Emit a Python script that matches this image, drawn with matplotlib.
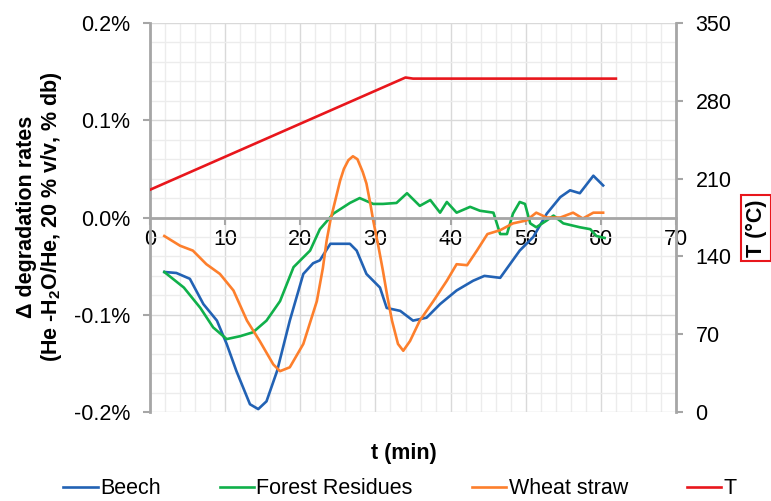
import numpy as np
import matplotlib
matplotlib.use("Agg")
import matplotlib.pyplot as plt
from matplotlib.ticker import MultipleLocator, FuncFormatter

plt.rcParams['font.family'] = ['Liberation Sans', 'DejaVu Sans']
plt.rcParams['mathtext.fontset'] = 'custom'
plt.rcParams['mathtext.bf'] = 'Liberation Sans:bold'
plt.rcParams['mathtext.rm'] = 'Liberation Sans'
plt.rcParams['mathtext.default'] = 'bf'

# data (t in min, values in %)
beech_t = [1.9, 3.5, 5.3, 7.1, 8.9, 10.2, 11.5, 13.3, 14.4, 15.5, 16.9, 18.6, 20.4, 21.7,
           22.6, 24.0, 25.3, 26.6, 27.5, 28.8, 30.6, 31.5, 33.3, 35.0, 36.8, 38.6, 40.8,
           43.0, 44.5, 46.6, 47.9, 49.2, 51.0, 52.8, 54.6, 55.9, 57.2, 59.0, 60.3]
beech_v = [-0.056, -0.057, -0.063, -0.089, -0.106, -0.130, -0.158, -0.192, -0.197, -0.189,
           -0.158, -0.106, -0.058, -0.047, -0.044, -0.027, -0.027, -0.027, -0.034, -0.058,
           -0.072, -0.093, -0.096, -0.106, -0.103, -0.089, -0.075, -0.065, -0.060, -0.062,
           -0.048, -0.034, -0.020, 0.004, 0.021, 0.028, 0.025, 0.043, 0.033]

forest_t = [1.9, 4.5, 6.7, 8.4, 10.2, 12.0, 13.7, 15.5, 17.3, 19.1, 21.3, 22.6, 24.4, 26.6,
            27.9, 29.7, 31.0, 32.8, 34.2, 35.9, 37.3, 38.6, 39.5, 40.8, 42.6, 43.9, 45.7,
            46.6, 47.5, 48.3, 49.2, 49.9, 50.6, 51.4, 52.8, 53.7, 55.0, 57.2, 58.6, 59.4, 60.5]
forest_v = [-0.056, -0.072, -0.093, -0.113, -0.125, -0.122, -0.118, -0.106, -0.086, -0.051,
            -0.034, -0.012, 0.004, 0.015, 0.020, 0.014, 0.014, 0.015, 0.025, 0.012, 0.018,
            0.005, 0.016, 0.005, 0.011, 0.007, 0.005, -0.017, -0.017, 0.004, 0.016, 0.014,
            -0.006, -0.010, -0.003, 0.002, -0.006, -0.010, -0.012, -0.019, -0.021]

wheat_t = [1.9, 4.0, 5.7, 7.5, 9.3, 11.1, 12.9, 14.6, 16.4, 17.3, 18.6, 20.4, 22.2, 23.0,
           23.5, 24.0, 25.3, 25.8, 26.4, 27.0, 27.6, 28.3, 28.8, 29.3, 29.7, 30.4, 31.0,
           31.6, 32.2, 33.0, 33.7, 34.6, 35.9, 37.7, 39.5, 40.8, 42.2, 43.5, 44.9, 46.6,
           48.3, 50.1, 51.4, 52.8, 54.6, 56.3, 57.6, 59.0, 60.3]
wheat_v = [-0.019, -0.029, -0.034, -0.048, -0.058, -0.075, -0.106, -0.127, -0.151, -0.158,
           -0.154, -0.130, -0.086, -0.052, -0.024, -0.003, 0.038, 0.050, 0.059, 0.063,
           0.060, 0.047, 0.035, 0.015, -0.003, -0.030, -0.055, -0.082, -0.106, -0.130,
           -0.137, -0.127, -0.106, -0.086, -0.065, -0.048, -0.049, -0.034, -0.017, -0.013,
           -0.006, -0.003, 0.005, 0.000, 0.000, 0.005, -0.001, 0.005, 0.005]

temp_t = [0, 34, 35, 62]
temp_v = [200, 301, 300, 300]

fig = plt.figure(figsize=(7.71, 5.01), dpi=100)
ax = fig.add_axes([0.1946, 0.1776, 0.6822, 0.7764])
ax2 = ax.twinx()

grey = '#a6a6a6'
ax.plot(beech_t, beech_v, color='#2262b4', lw=1.9, label='Beech')
ax.plot(forest_t, forest_v, color='#10b04a', lw=1.9, label='Forest Residues')
ax.plot(wheat_t, wheat_v, color='#fd7f2c', lw=1.9, label='Wheat straw')
ax2.plot(temp_t, temp_v, color='#e8161c', lw=1.9, label='T')

ax.set_xlim(0, 70)
ax.set_ylim(-0.2, 0.2)
ax2.set_ylim(0, 350)

ax.xaxis.set_major_locator(MultipleLocator(10))
ax.xaxis.set_minor_locator(MultipleLocator(2))
ax.yaxis.set_major_locator(MultipleLocator(0.1))
ax.yaxis.set_minor_locator(MultipleLocator(0.02))
ax.yaxis.set_major_formatter(FuncFormatter(lambda v, p: '%.1f%%' % v if abs(v) > 1e-9 else '0.0%'))
ax2.yaxis.set_major_locator(MultipleLocator(70))

ax.grid(which='major', color='#d9d9d9', lw=1)
ax.grid(which='minor', color='#ececec', lw=1)
ax.set_axisbelow(True)

for s in ['top', 'right']:
    ax.spines[s].set_visible(False)
for s in ['top', 'left', 'bottom']:
    ax2.spines[s].set_visible(False)
ax.spines['bottom'].set_position(('data', 0))
for sp in [ax.spines['left'], ax.spines['bottom'], ax2.spines['right']]:
    sp.set_color(grey)
    sp.set_linewidth(2)

ax.tick_params(axis='x', which='major', direction='out', length=5, width=1.5, color=grey,
               labelsize=15.5, pad=3)
ax.tick_params(axis='y', which='major', direction='out', length=5, width=1.5, color=grey,
               labelsize=15.5, pad=9)
ax.tick_params(which='minor', length=0)
ax2.tick_params(axis='y', direction='out', length=5, width=1.5, color=grey,
                labelsize=15.5, pad=9)

fig.text(404 / 771, 1 - 453 / 501, 't (min)', ha='center', va='center',
         fontsize=15.5, fontweight='bold')
fig.text(40 / 771, 1 - 217 / 501,
         'Δ degradation rates\n(He -H$_2$O/He, 20 % v/v, % db)',
         rotation=90, ha='center', va='center', multialignment='center',
         fontsize=15.5, fontweight='bold', linespacing=1.1)
fig.text(756 / 771, 1 - 228 / 501, 'T (°C)', rotation=90, ha='center', va='center',
         fontsize=15.5, fontweight='bold',
         bbox=dict(boxstyle='square,pad=0.2', facecolor='white', edgecolor='#e8161c', lw=1.5))

h1, l1 = ax.get_legend_handles_labels()
h2, l2 = ax2.get_legend_handles_labels()
fig.legend(h1 + h2, l1 + l2, loc='center', bbox_to_anchor=(400 / 771, 1 - 489 / 501),
           ncol=4, frameon=False, fontsize=15.5, handlelength=1.6, handletextpad=0.1,
           columnspacing=2.75)

fig.savefig('out.png', dpi=100)
